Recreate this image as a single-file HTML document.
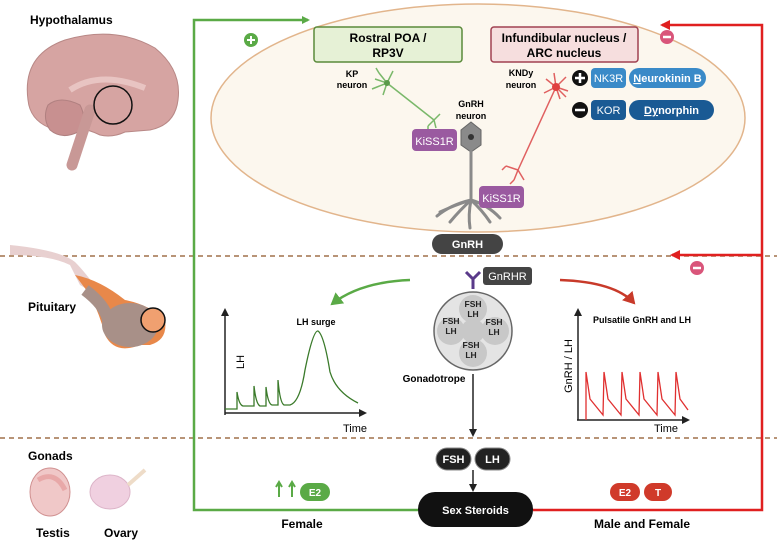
<!DOCTYPE html>
<html><head><meta charset="utf-8"><style>
body{margin:0;background:#fff;}
svg{display:block;font-family:"Liberation Sans",sans-serif;}
.b{font-weight:bold;}
</style></head><body>
<svg width="777" height="548" viewBox="0 0 777 548" xmlns="http://www.w3.org/2000/svg">
<defs>
<marker id="ag" markerWidth="8" markerHeight="8" refX="6" refY="4" orient="auto" markerUnits="userSpaceOnUse"><path d="M0,0 L8,4 L0,8Z" fill="#5aaa46"/></marker>
<marker id="ar" markerWidth="10" markerHeight="10" refX="8" refY="5" orient="auto" markerUnits="userSpaceOnUse"><path d="M0,0 L10,5 L0,10Z" fill="#e02020"/></marker>
<marker id="ak" markerWidth="8" markerHeight="8" refX="6" refY="4" orient="auto" markerUnits="userSpaceOnUse"><path d="M0,0 L8,4 L0,8Z" fill="#222"/></marker>
<marker id="acg" markerWidth="14" markerHeight="14" refX="10" refY="7" orient="auto" markerUnits="userSpaceOnUse"><path d="M0,0 L12,7 L0,14Z" fill="#5aaa46"/></marker>
<marker id="acr" markerWidth="14" markerHeight="14" refX="10" refY="7" orient="auto" markerUnits="userSpaceOnUse"><path d="M0,0 L12,7 L0,14Z" fill="#c83a2a"/></marker>
</defs>

<line x1="0" y1="256" x2="777" y2="256" stroke="#a0704a" stroke-width="1.5" stroke-dasharray="5,4"/>
<line x1="0" y1="438" x2="777" y2="438" stroke="#a0704a" stroke-width="1.5" stroke-dasharray="5,4"/>

<ellipse cx="478" cy="118" rx="267" ry="114" fill="#fcf7ee" stroke="#e2b58c" stroke-width="1.5"/>

<polyline points="418,510 194,510 194,20 308,20" fill="none" stroke="#5aaa46" stroke-width="2.5" marker-end="url(#ag)"/>
<circle cx="251" cy="40" r="7" fill="#5aaa46"/><path d="M247,40h8M251,36v8" stroke="#fff" stroke-width="2"/>

<polyline points="533,510 762,510 762,25 662,25" fill="none" stroke="#e02020" stroke-width="2.5" marker-end="url(#ar)"/>
<line x1="762" y1="255" x2="672" y2="255" stroke="#e02020" stroke-width="2.5" marker-end="url(#ar)"/>
<circle cx="667" cy="37" r="7" fill="#d9557a"/><path d="M663,37h8" stroke="#fff" stroke-width="2.5"/>
<circle cx="697" cy="268" r="7" fill="#d9557a"/><path d="M693,268h8" stroke="#fff" stroke-width="2.5"/>

<rect x="314" y="27" width="148" height="35" rx="3" fill="#e6f1d6" stroke="#5a8a3a" stroke-width="1.5"/>
<text x="388" y="42" text-anchor="middle" class="b" font-size="12">Rostral POA /</text>
<text x="388" y="57" text-anchor="middle" class="b" font-size="12">RP3V</text>
<rect x="491" y="27" width="147" height="35" rx="3" fill="#f6dede" stroke="#a04050" stroke-width="1.5"/>
<text x="564" y="42" text-anchor="middle" class="b" font-size="12">Infundibular nucleus /</text>
<text x="564" y="57" text-anchor="middle" class="b" font-size="12">ARC nucleus</text>

<text x="352" y="77" text-anchor="middle" class="b" font-size="9">KP</text>
<text x="352" y="88" text-anchor="middle" class="b" font-size="9">neuron</text>
<text x="471" y="107" text-anchor="middle" class="b" font-size="9">GnRH</text>
<text x="471" y="119" text-anchor="middle" class="b" font-size="9">neuron</text>
<text x="521" y="76" text-anchor="middle" class="b" font-size="9">KNDy</text>
<text x="521" y="88" text-anchor="middle" class="b" font-size="9">neuron</text>

<g stroke="#7ab86a" stroke-width="1.5" fill="none">
<path d="M387,83 L434,120"/><path d="M387,83l-8,-10M387,83l-10,4M387,83l-4,12M387,83l6,-12M387,83l-12,-4M379,73l-3,-5M377,87l-5,2"/>
<path d="M434,120l-6,6M434,120l6,-6M434,120l2,8M428,126v4"/>
</g>
<circle cx="387" cy="83" r="3" fill="#5a9a4a"/>

<g stroke="#e06060" stroke-width="1.5" fill="none">
<path d="M556,87 L518,170"/><path d="M556,87l-10,-8M556,87l10,-10M556,87l12,4M556,87l-12,6M556,87l4,12M556,87l-2,-14M556,87l10,10"/>
<path d="M518,170l-12,-4M518,170l-4,10M518,170l6,10M506,166l-4,4M514,180l-4,4"/>
</g>
<circle cx="556" cy="87" r="4" fill="#e04040"/>

<path d="M471,122 L481,130 L481,145 L471,152 L461,145 L461,130Z" fill="#8a8a8a" stroke="#666"/>
<circle cx="471" cy="137" r="3" fill="#333"/>
<g stroke="#8a8a8a" stroke-width="3" fill="none" stroke-linecap="round">
<path d="M471,150 L471,200"/>
<path d="M471,200 Q455,205 440,212 M471,200 Q460,210 450,222 M471,200 Q468,215 470,228 M471,200 Q482,210 490,222 M471,200 Q488,205 500,218 M471,200 Q450,205 437,216"/>
</g>

<rect x="412" y="129" width="45" height="22" rx="4" fill="#9a5aa0"/>
<text x="434.5" y="145" text-anchor="middle" fill="#fff" font-size="11">KiSS1R</text>
<rect x="479" y="186" width="45" height="22" rx="4" fill="#9a5aa0"/>
<text x="501.5" y="202" text-anchor="middle" fill="#fff" font-size="11">KiSS1R</text>

<circle cx="580" cy="78" r="8" fill="#111"/><path d="M575,78h10M580,73v10" stroke="#fff" stroke-width="2.5"/>
<rect x="591" y="68" width="35" height="20" rx="4" fill="#3a8ac8"/>
<text x="608.5" y="82" text-anchor="middle" fill="#fff" font-size="11">NK3R</text>
<rect x="629" y="68" width="77" height="20" rx="10" fill="#3a8ac8"/>
<text x="667.5" y="82" text-anchor="middle" fill="#fff" class="b" font-size="11"><tspan text-decoration="underline">N</tspan>eurokinin B</text>
<circle cx="580" cy="110" r="8" fill="#111"/><path d="M575,110h10" stroke="#fff" stroke-width="2.5"/>
<rect x="591" y="100" width="35" height="20" rx="4" fill="#1a5a94"/>
<text x="608.5" y="114" text-anchor="middle" fill="#fff" font-size="11">KOR</text>
<rect x="629" y="100" width="85" height="20" rx="10" fill="#1a5a94"/>
<text x="671.5" y="114" text-anchor="middle" fill="#fff" class="b" font-size="11"><tspan text-decoration="underline">Dy</tspan>norphin</text>

<rect x="432" y="234" width="71" height="20" rx="10" fill="#444"/>
<text x="467.5" y="248" text-anchor="middle" fill="#fff" class="b" font-size="11">GnRH</text>

<path d="M473,289 V279 M473,279 L466,272 M473,279 L480,272" stroke="#5a3a8a" stroke-width="3" fill="none"/>
<rect x="483" y="267" width="49" height="18" rx="3" fill="#444"/>
<text x="507.5" y="280" text-anchor="middle" fill="#fff" font-size="11">GnRHR</text>

<circle cx="473" cy="331" r="39" fill="#e4e4e4" stroke="#666" stroke-width="1.5"/>
<g fill="#c8c8c8">
<circle cx="473" cy="309" r="14"/><circle cx="451" cy="331" r="14"/><circle cx="495" cy="331" r="14"/><circle cx="473" cy="353" r="14"/><circle cx="473" cy="331" r="12"/>
</g>
<g class="b" font-size="8.5" text-anchor="middle" fill="#222">
<text x="473" y="307">FSH</text><text x="473" y="317">LH</text>
<text x="451" y="324">FSH</text><text x="451" y="334">LH</text>
<text x="494" y="325">FSH</text><text x="494" y="335">LH</text>
<text x="471" y="348">FSH</text><text x="471" y="358">LH</text>
</g>
<text x="434" y="382" text-anchor="middle" class="b" font-size="10">Gonadotrope</text>
<line x1="473" y1="374" x2="473" y2="435" stroke="#222" stroke-width="1.5" marker-end="url(#ak)"/>

<path d="M410,280 Q360,282 332,304" fill="none" stroke="#5aaa46" stroke-width="2.5" marker-end="url(#acg)"/>
<path d="M560,280 Q615,282 634,303" fill="none" stroke="#c83a2a" stroke-width="2.5" marker-end="url(#acr)"/>

<path d="M225,415 V310" stroke="#222" stroke-width="1.5" marker-end="url(#ak)"/>
<path d="M225,413 H365" stroke="#222" stroke-width="1.5" marker-end="url(#ak)"/>
<text x="316" y="325" text-anchor="middle" class="b" font-size="9">LH surge</text>
<text x="244" y="362" text-anchor="middle" font-size="11" transform="rotate(-90 244 362)">LH</text>
<text x="355" y="432" text-anchor="middle" font-size="11">Time</text>
<path d="M225,409 H237 V392 Q239,405 243,406 H254 V386 Q256,404 260,406 H266 V387 Q268,404 272,405 H278 V380 Q280,403 284,405 H290 Q300,402 305,370 Q313,330 318,331 Q324,335 330,372 Q336,392 358,403" fill="none" stroke="#3a7a2a" stroke-width="1.3"/>

<path d="M578,420 V310" stroke="#222" stroke-width="1.5" marker-end="url(#ak)"/>
<path d="M577,420 H688" stroke="#222" stroke-width="1.5" marker-end="url(#ak)"/>
<text x="642" y="323" text-anchor="middle" class="b" font-size="9">Pulsatile GnRH and LH</text>
<text x="572" y="366" text-anchor="middle" font-size="11" transform="rotate(-90 572 366)">GnRH / LH</text>
<text x="666" y="432" text-anchor="middle" font-size="11">Time</text>
<path d="M586,420 L586,372 L590,399 L603,415 L604,372 L608,399 L621,415 L622,372 L626,399 L639,415 L640,372 L644,399 L657,415 L658,372 L662,399 L675,415 L676,372 L680,399 L688,410" fill="none" stroke="#e03030" stroke-width="1.3"/>

<rect x="436" y="448" width="35" height="22" rx="11" fill="#222" stroke="#888"/>
<text x="453.5" y="463" text-anchor="middle" fill="#fff" class="b" font-size="11">FSH</text>
<rect x="475" y="448" width="35" height="22" rx="11" fill="#222" stroke="#888"/>
<text x="492.5" y="463" text-anchor="middle" fill="#fff" class="b" font-size="11">LH</text>
<line x1="473" y1="470" x2="473" y2="490" stroke="#222" stroke-width="1.5" marker-end="url(#ak)"/>

<rect x="418" y="492" width="115" height="35" rx="17" fill="#111"/>
<text x="475.5" y="514" text-anchor="middle" fill="#fff" class="b" font-size="11">Sex Steroids</text>

<path d="M279,497 V484 M276,487 L279,482 L282,487 M292,497 V484 M289,487 L292,482 L295,487" stroke="#5aaa46" stroke-width="2" fill="none"/>
<rect x="300" y="483" width="30" height="18" rx="9" fill="#5aaa46"/>
<text x="315" y="496" text-anchor="middle" fill="#fff" class="b" font-size="10">E2</text>
<text x="302" y="528" text-anchor="middle" class="b" font-size="12">Female</text>

<rect x="610" y="483" width="30" height="18" rx="9" fill="#d03a2a"/>
<text x="625" y="496" text-anchor="middle" fill="#fff" class="b" font-size="10">E2</text>
<rect x="644" y="483" width="28" height="18" rx="9" fill="#d03a2a"/>
<text x="658" y="496" text-anchor="middle" fill="#fff" class="b" font-size="10">T</text>
<text x="642" y="528" text-anchor="middle" class="b" font-size="12">Male and Female</text>

<text x="30" y="24" class="b" font-size="12">Hypothalamus</text>
<text x="28" y="311" class="b" font-size="12">Pituitary</text>
<text x="28" y="460" class="b" font-size="12">Gonads</text>
<text x="36" y="537" class="b" font-size="12">Testis</text>
<text x="104" y="537" class="b" font-size="12">Ovary</text>

<!-- brain -->
<path d="M28,100 Q22,55 65,40 Q115,25 155,48 Q182,70 178,100 Q175,125 150,130 L125,132 Q112,138 100,135 Q90,130 78,128 Q60,135 50,128 Q30,120 28,100Z" fill="#d6a4a2" stroke="#b88886"/>
<path d="M48,105 Q60,95 80,105 Q88,120 78,132 Q62,140 50,130 Q42,118 48,105Z" fill="#c89090" stroke="#b08080"/>
<path d="M70,90 Q100,70 145,88" stroke="#e8c4c2" stroke-width="6" fill="none"/>
<path d="M90,110 L72,165" stroke="#c89896" stroke-width="11" stroke-linecap="round"/>
<circle cx="113" cy="105" r="19" fill="none" stroke="#111" stroke-width="1.5"/>

<path d="M10,255 Q50,255 70,265 L80,285 L92,292 L98,290 Q85,272 75,262 Q60,250 10,245Z" fill="#e8d0d0"/>
<path d="M75,275 Q100,280 125,300 Q150,305 165,320 Q168,340 150,345 L140,345 Q115,355 105,335 Q100,315 90,295 Z" fill="#e8884a"/>
<ellipse cx="130" cy="325" rx="28" ry="22" fill="#a89088"/>
<path d="M85,290 Q105,305 108,320" stroke="#a89088" stroke-width="12" fill="none"/>
<circle cx="153" cy="320" r="12" fill="#f0a070" stroke="#111" stroke-width="1.5"/>

<ellipse cx="50" cy="492" rx="20" ry="24" fill="#f0c8c8" stroke="#d09090"/>
<path d="M38,480 Q55,470 65,490" stroke="#e8a8a8" stroke-width="5" fill="none"/>
<ellipse cx="110" cy="492" rx="20" ry="17" fill="#f0d0e0" stroke="#dcb4c8"/>
<path d="M128,485 L145,470" stroke="#eedcc8" stroke-width="4"/>
</svg>
</body></html>
